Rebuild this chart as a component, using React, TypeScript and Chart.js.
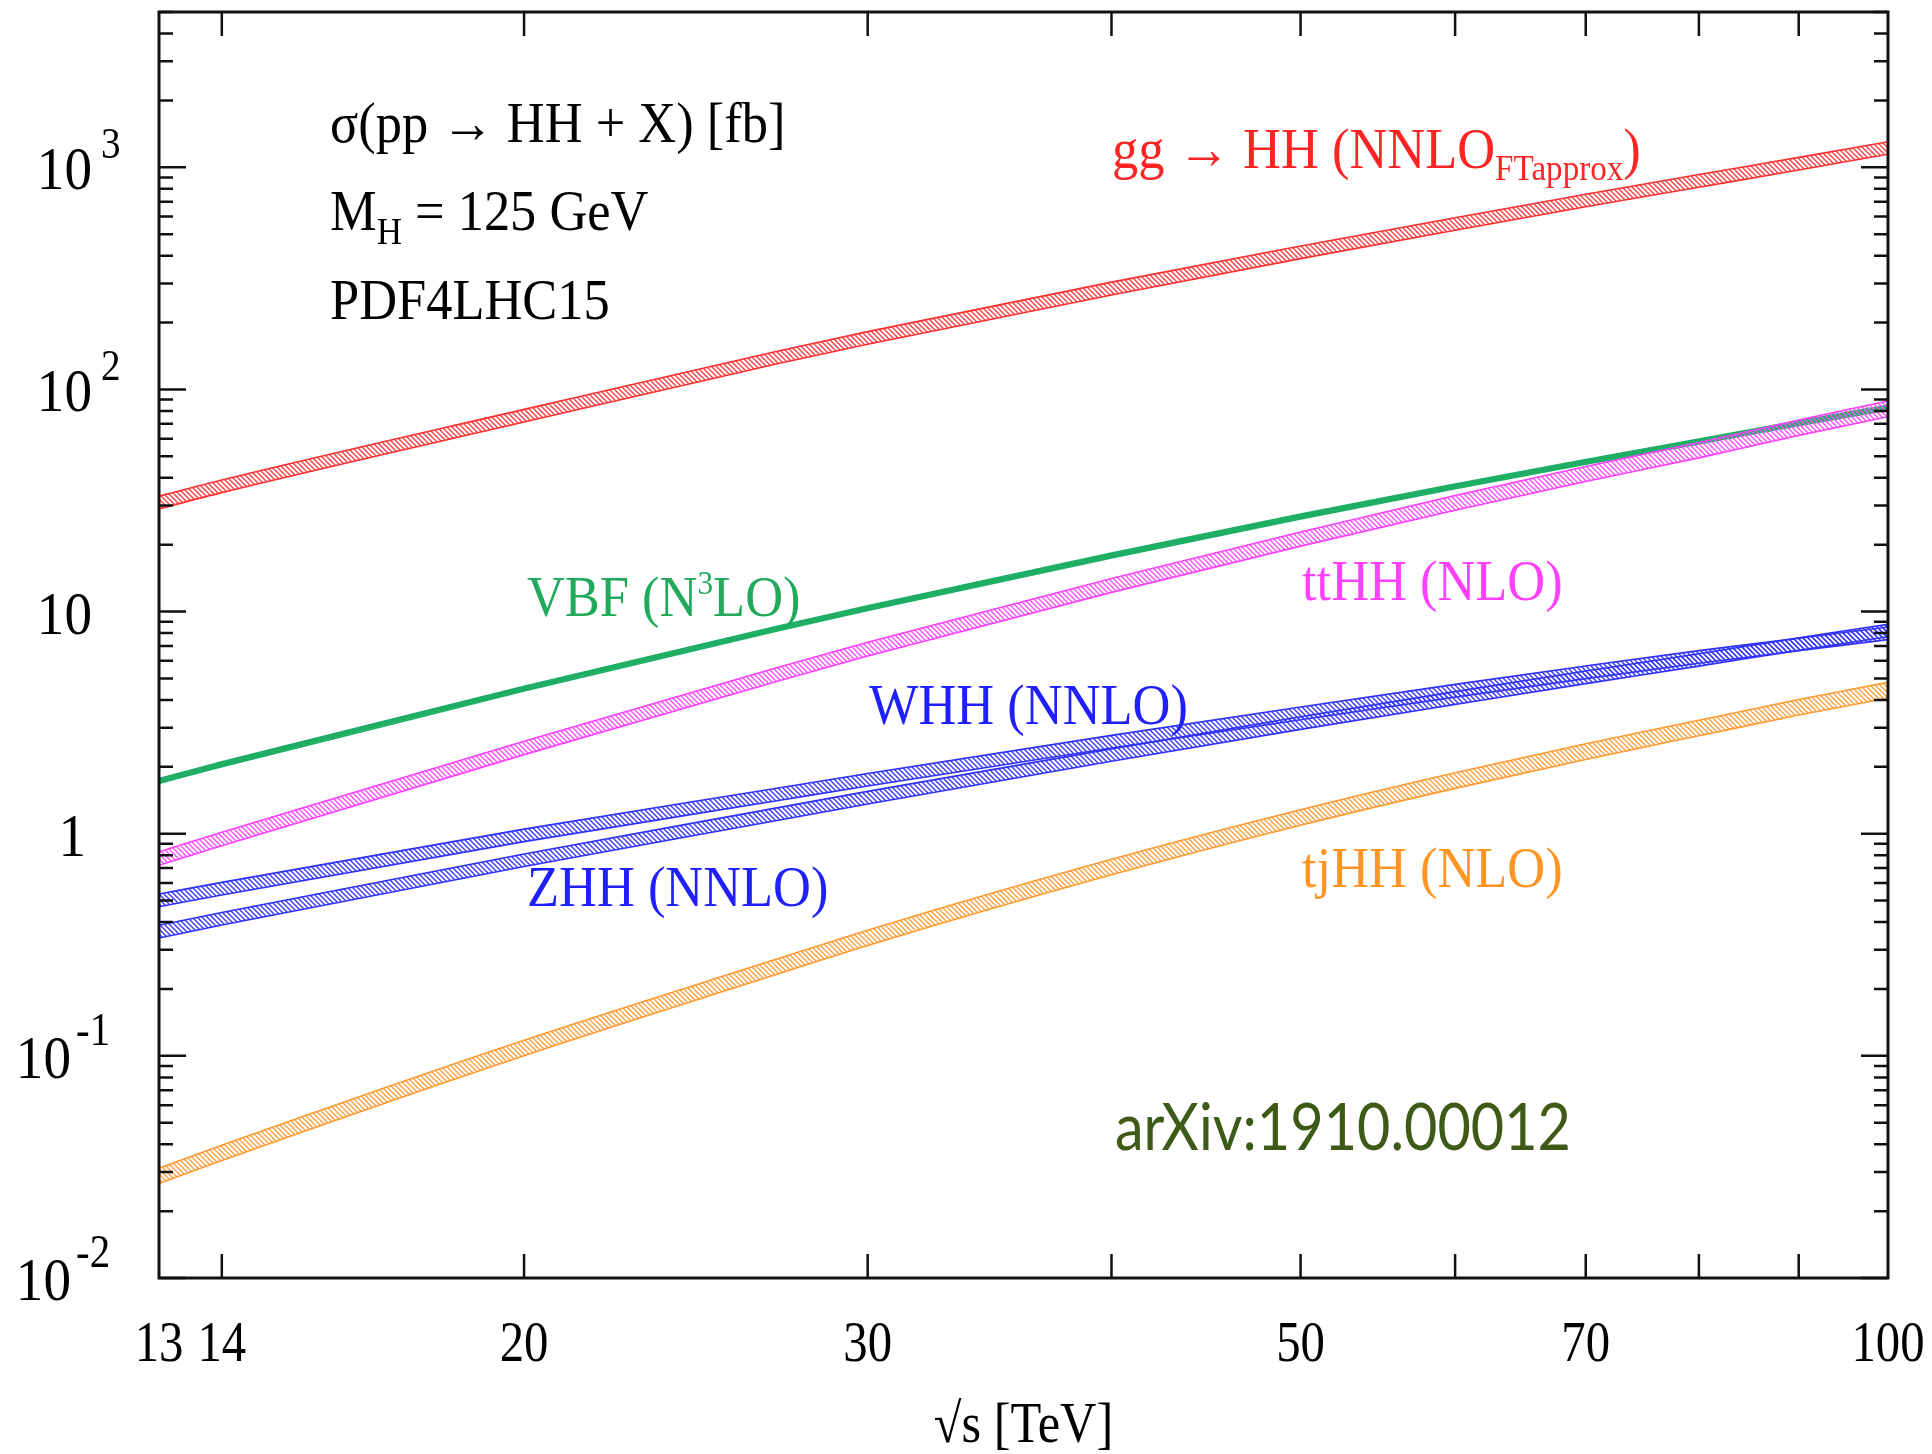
import React, { useEffect, useRef } from "react";
import { Chart, registerables } from "chart.js";

Chart.register(...registerables);

// collider energy sqrt(s) in TeV
const energies = [13, 14, 20, 27, 30, 40, 50, 60, 70, 80, 90, 100];

// cross sections in fb (band lower / upper edges)
const ggLow = [29.0, 34.3, 71.3, 130.8, 159.8, 266, 388, 521, 664, 813, 972, 1144];
const ggHigh = [33.1, 39.1, 81.3, 149.0, 182.0, 304, 442, 593, 756, 927, 1108, 1304];

const vbfLow = [1.683, 2.004, 4.39, 8.19, 10.11, 17.45, 26.1, 35.7, 46.0, 56.8, 68.7, 80.7];
const vbfHigh = [1.769, 2.106, 4.61, 8.61, 10.63, 18.35, 27.5, 37.5, 48.4, 59.8, 72.3, 84.9];

const tthhLow = [0.721, 0.883, 2.27, 4.87, 6.31, 12.2, 19.7, 28.6, 38.5, 49.2, 62.1, 75.3];
const tthhHigh = [0.829, 1.015, 2.61, 5.61, 7.27, 14.1, 22.8, 33.3, 45.0, 57.7, 72.9, 88.7];

const whhLow = [0.469, 0.53, 0.921, 1.411, 1.639, 2.43, 3.26, 4.12, 4.99, 5.85, 6.66, 7.48];
const whhHigh = [0.535, 0.604, 1.049, 1.607, 1.867, 2.77, 3.72, 4.7, 5.69, 6.67, 7.58, 8.52];

const zhhLow = [0.339, 0.388, 0.712, 1.15, 1.361, 2.12, 2.95, 3.82, 4.74, 5.68, 6.69, 7.7];
const zhhHigh = [0.387, 0.442, 0.81, 1.31, 1.551, 2.41, 3.36, 4.36, 5.4, 6.46, 7.61, 8.76];

const tjhhLow = [0.0266, 0.0338, 0.1002, 0.234, 0.314, 0.653, 1.092, 1.6, 2.16, 2.76, 3.42, 4.08];
const tjhhHigh = [0.0312, 0.0396, 0.1176, 0.274, 0.368, 0.767, 1.282, 1.88, 2.54, 3.24, 4.02, 4.8];

// axis ticks and labels
const xTickMarks = [14, 20, 30, 40, 50, 60, 70, 80, 90];
const xTickLabels = [13, 14, 20, 30, 50, 70, 100];
const yDecades = [0.01, 0.1, 1, 10, 100, 1000];
const yBase = ["10", "10", "1", "10", "10", "10"];
const yExp = ["-2", "-1", "", "", "2", "3"];

const SERIF = '"Liberation Serif", "DejaVu Serif", serif';

function pts(ys: number[]) {
  return energies.map((e, i) => ({ x: e, y: ys[i] }));
}

function hatch(color: string) {
  const c = document.createElement("canvas");
  c.width = 5;
  c.height = 5;
  const g = c.getContext("2d")!;
  g.strokeStyle = color;
  g.lineWidth = 1.4;
  g.beginPath();
  g.moveTo(-1, -1);
  g.lineTo(6, 6);
  g.moveTo(-1, 4);
  g.lineTo(1, 6);
  g.moveTo(4, -1);
  g.lineTo(6, 1);
  g.stroke();
  const ctx = document.createElement("canvas").getContext("2d")!;
  return ctx.createPattern(c, "repeat");
}

type Seg = { t: string; size?: number; dy?: number };

function rich(ctx: CanvasRenderingContext2D, segs: Seg[], x: number, y: number, color: string, base: number, sx: number, family = SERIF) {
  let cx = x;
  for (const s of segs) {
    ctx.save();
    ctx.font = `${s.size ?? base}px ${family}`;
    ctx.fillStyle = color;
    ctx.textBaseline = "alphabetic";
    ctx.textAlign = "left";
    ctx.translate(cx, y + (s.dy ?? 0));
    ctx.scale(sx, 1);
    ctx.fillText(s.t, 0, 0);
    cx += ctx.measureText(s.t).width * sx;
    ctx.restore();
  }
}

function txt(ctx: CanvasRenderingContext2D, s: string, x: number, y: number, size: number, color: string, align: CanvasTextAlign, sx: number, family = SERIF) {
  ctx.save();
  ctx.font = `${size}px ${family}`;
  ctx.fillStyle = color;
  ctx.textBaseline = "alphabetic";
  ctx.textAlign = align;
  ctx.translate(x, y);
  ctx.scale(sx, 1);
  ctx.fillText(s, 0, 0);
  ctx.restore();
}

const framePlugin = {
  id: "framePlugin",
  afterDraw(chart: any) {
    const ctx: CanvasRenderingContext2D = chart.ctx;
    const xs = chart.scales.x;
    const ys = chart.scales.y;
    const { left, right, top, bottom } = chart.chartArea;
    ctx.save();
    ctx.strokeStyle = "#111";
    ctx.lineWidth = 3;
    ctx.strokeRect(left, top, right - left, bottom - top);
    ctx.lineWidth = 2.5;
    // y ticks
    const yMax = ys.max;
    for (let e = -2; e <= 3; e++) {
      for (let m = 1; m <= 9; m++) {
        const v = m * Math.pow(10, e);
        if (v > yMax) continue;
        const p = ys.getPixelForValue(v);
        const len = m === 1 ? 27 : 14;
        ctx.beginPath();
        ctx.moveTo(left, p);
        ctx.lineTo(left + len, p);
        ctx.moveTo(right, p);
        ctx.lineTo(right - len, p);
        ctx.stroke();
      }
    }
    // x ticks
    for (const v of xTickMarks) {
      const p = xs.getPixelForValue(v);
      ctx.beginPath();
      ctx.moveTo(p, bottom);
      ctx.lineTo(p, bottom - 24);
      ctx.moveTo(p, top);
      ctx.lineTo(p, top + 24);
      ctx.stroke();
    }
    ctx.restore();

    // y labels
    yDecades.forEach((v, i) => {
      const p = ys.getPixelForValue(v);
      const exp = yExp[i];
      if (exp.startsWith("-")) {
        txt(ctx, yBase[i], 71, p + 22, 62, "#000", "right", 0.89);
        txt(ctx, exp, 76, p - 11, 46, "#000", "left", 0.89);
      } else if (exp) {
        txt(ctx, yBase[i], 92, p + 22, 62, "#000", "right", 0.89);
        txt(ctx, exp, 101, p - 9, 44, "#000", "left", 0.89);
      } else {
        txt(ctx, yBase[i], yBase[i] === "1" ? 86 : 92, p + 22, 62, "#000", "right", 0.89);
      }
    });
    // x labels
    for (const v of xTickLabels) {
      const p = xs.getPixelForValue(v);
      txt(ctx, String(v), p, 1361, 56, "#000", "center", 0.87);
    }
    txt(ctx, "\u221As [TeV]", (left + right) / 2, 1442, 56, "#000", "center", 0.9);

    // annotations
    txt(ctx, "\u03C3(pp \u2192 HH + X) [fb]", 330, 142, 57, "#000", "left", 0.92);
    rich(ctx, [{ t: "M" }, { t: "H", size: 38, dy: 14 }, { t: " = 125 GeV" }], 330, 230, "#000", 57, 0.92);
    txt(ctx, "PDF4LHC15", 330, 319, 57, "#000", "left", 0.92);

    rich(ctx, [{ t: "gg \u2192 HH (NNLO" }, { t: "FTapprox", size: 36, dy: 12 }, { t: ")" }], 1112, 168, "#ff2424", 57, 0.92);
    rich(ctx, [{ t: "VBF (N" }, { t: "3", size: 34, dy: -22 }, { t: "LO)" }], 527, 616, "#22aa5c", 57, 0.92);
    txt(ctx, "ttHH (NLO)", 1302, 600, 57, "#ff40ff", "left", 0.92);
    txt(ctx, "WHH (NNLO)", 869, 724, 57, "#2020ff", "left", 0.92);
    txt(ctx, "ZHH (NNLO)", 527, 906, 57, "#2020ff", "left", 0.92);
    txt(ctx, "tjHH (NLO)", 1302, 887, 57, "#ff9624", "left", 0.92);

    // arXiv tag, fitted to its width in the reference
    ctx.save();
    ctx.font = '66px Lato, "Open Sans", sans-serif';
    const w = ctx.measureText("arXiv:1910.00012").width;
    ctx.restore();
    txt(ctx, "arXiv:1910.00012", 1115, 1150, 66, "#3d5a16", "left", 456 / w, 'Lato, "Open Sans", sans-serif');
  },
};

export default function App() {
  const ref = useRef<HTMLCanvasElement | null>(null);
  useEffect(() => {
    document.body.style.margin = "0";
    const canvas = ref.current!;
    const band = (low: number[], high: number[], line: string, fillStyle: any, lw: number) => [
      {
        data: pts(low),
        borderColor: line,
        borderWidth: lw,
        pointRadius: 0,
        fill: false,
        cubicInterpolationMode: "monotone",
      },
      {
        data: pts(high),
        borderColor: line,
        borderWidth: lw,
        pointRadius: 0,
        fill: "-1",
        backgroundColor: fillStyle,
        cubicInterpolationMode: "monotone",
      },
    ];
    const chart = new Chart(canvas, {
      type: "line",
      data: {
        datasets: [
          ...band(ggLow, ggHigh, "#ff3030", hatch("#ff4040"), 1.6),
          ...band(tthhLow, tthhHigh, "#ff40ff", hatch("#ff50ff"), 1.6),
          ...band(vbfLow, vbfHigh, "#1fae66", "#1fae66", 1.6),
          ...band(zhhLow, zhhHigh, "#3030ff", hatch("#3a3aff"), 1.6),
          ...band(whhLow, whhHigh, "#3030ff", hatch("#3a3aff"), 1.6),
          ...band(tjhhLow, tjhhHigh, "#ff9a30", hatch("#ffa040"), 1.6),
        ] as any,
      },
      options: {
        animation: false,
        responsive: false,
        devicePixelRatio: 1,
        parsing: true,
        layout: { padding: { left: 159, right: 44, top: 12, bottom: 176 } },
        plugins: { legend: { display: false }, tooltip: { enabled: false } },
        scales: {
          x: { type: "logarithmic", min: 13, max: 100, display: false },
          y: { type: "logarithmic", min: 0.01, max: 5000, display: false },
        },
      },
      plugins: [framePlugin],
    } as any);
    return () => chart.destroy();
  }, []);
  return (
    <div style={{ width: 1932, height: 1454, background: "#fff" }}>
      <canvas ref={ref} width={1932} height={1454} style={{ display: "block" }} />
    </div>
  );
}
